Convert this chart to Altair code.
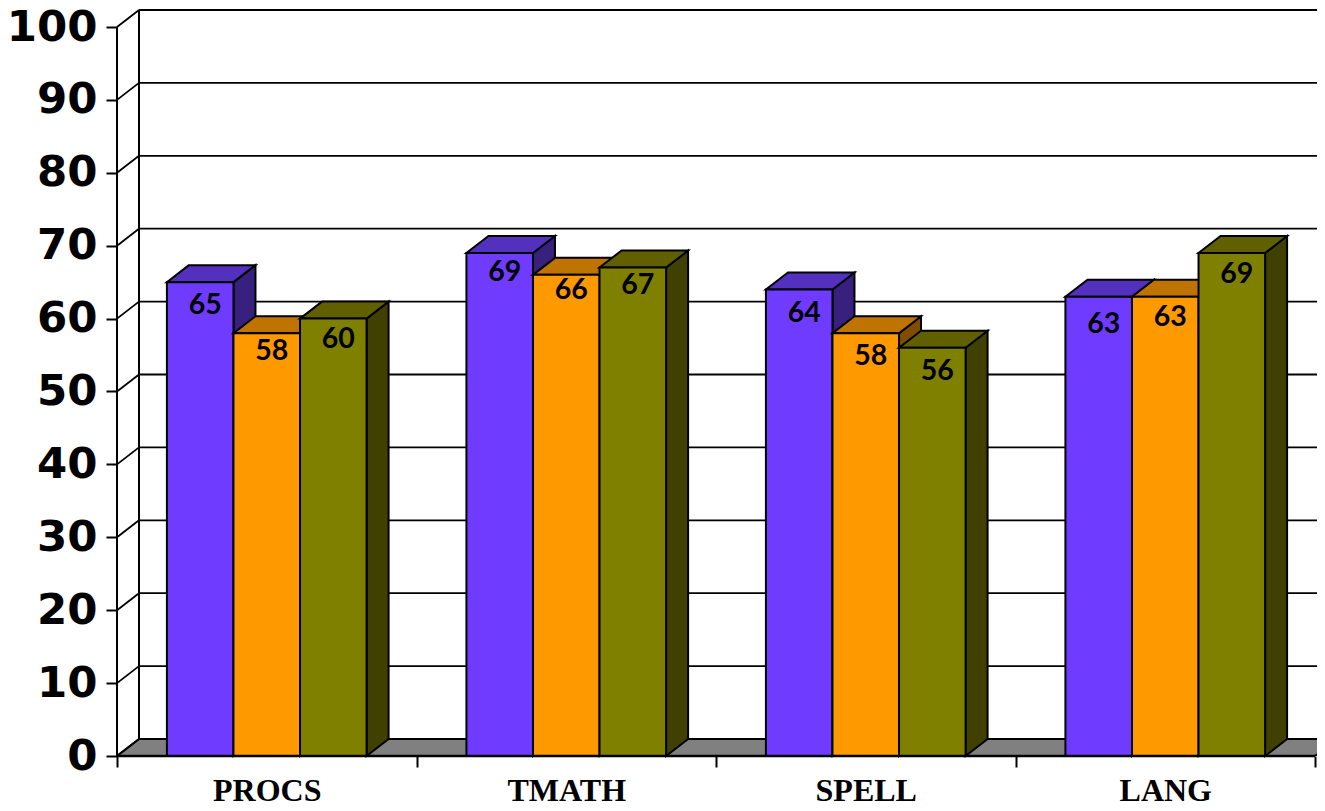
import altair as alt
import pandas as pd

categories = ["PROCS", "TMATH", "SPELL", "LANG"]
purple_values = [65, 69, 64, 63]
orange_values = [58, 66, 58, 63]
olive_values = [60, 67, 56, 69]
y_ticks = [0, 10, 20, 30, 40, 50, 60, 70, 80, 90, 100]

BAR = 1 / 4.5
GAP = 0.75 / 4.5
DX = 22 / 299.5
DY = 17 / 7.29
X_MAX = 1200 / 299.5
Y_MAX = 100 + DY
PX = 7.29

x_scale = alt.Scale(domain=[0, X_MAX], nice=False, zero=False)
y_scale = alt.Scale(domain=[0, Y_MAX], nice=False, zero=False)

x_ticks = [i / 2 for i in range(2 * len(categories) + 1)]
label_expr = "datum.value % 1 == 0 ? '' : " + str(categories) + "[floor(datum.value)]"

y_axis = alt.Axis(
    values=y_ticks, domain=False, grid=False, tickColor="black", tickWidth=2, tickSize=11,
    labelFont="DejaVu Sans", labelFontWeight="bold", labelFontSize=43.5, labelColor="black",
    labelPadding=9, labelOverlap=False, labelBound=False,
)
x_axis = alt.Axis(
    values=x_ticks, domain=False, grid=False, tickColor="black", tickWidth=2, tickSize=11,
    tickOpacity={"condition": {"test": "datum.value % 1 == 0", "value": 1}, "value": 0},
    labelExpr=label_expr,
    labelFont="Liberation Serif", labelFontWeight="bold", labelFontSize=32, labelColor="black",
    labelAngle=0, labelPadding=8, labelOverlap=False, labelBound=False, labelFlush=False,
)


def X(f="x"):
    return alt.X(f, type="quantitative", scale=x_scale, axis=x_axis, title=None)


def Y(f="y"):
    return alt.Y(f, type="quantitative", scale=y_scale, axis=y_axis, title=None)


series = [
    (purple_values, "#6F3CFF", "#5430BF", "#38207F", 0, [23, 19, 24, 27]),
    (orange_values, "#FF9900", "#BF7300", "#804D00", 1, [18, 15, 23, 20]),
    (olive_values, "#808000", "#606000", "#404000", 2, [20, 17, 23, 21]),
]

layers = []

floor = pd.DataFrame({
    "y": [0, DY],
    "x": [0, DX],
    "x2": [len(categories), len(categories) + DX],
})
layers.append(
    alt.Chart(floor).mark_area(orient="horizontal", color="#808080", stroke="black",
                               strokeWidth=2, clip=True)
    .encode(y=Y(), x=X(), x2="x2")
)

grid = pd.DataFrame({"y": [v + DY for v in y_ticks], "x": DX, "x2": X_MAX})
layers.append(
    alt.Chart(grid).mark_rule(color="black", strokeWidth=1.8).encode(y=Y(), x=X(), x2="x2")
)
diag = pd.DataFrame(
    [{"t": v, "x": 0, "y": v} for v in y_ticks] + [{"t": v, "x": DX, "y": v + DY} for v in y_ticks]
)
layers.append(
    alt.Chart(diag).mark_line(color="black", strokeWidth=1.8)
    .encode(x=X(), y=Y(), detail="t:N")
)
walls = pd.DataFrame({"x": [0, DX], "y": [0, DY], "y2": [100, 100 + DY]})
layers.append(
    alt.Chart(walls).mark_rule(color="black", strokeWidth=2)
    .encode(x=X(), y=Y(), y2="y2")
)
base = pd.DataFrame({"y": [0], "x": [0], "x2": [len(categories)]})

text_rows = []
for values, front, top, side, idx, drops in series:
    fr, tp, sd = [], [], []
    for c, v in enumerate(values):
        x0 = c + GAP + idx * BAR
        x1 = x0 + BAR
        fr.append({"x": x0, "x2": x1, "y": 0, "y2": v})
        tp += [
            {"id": c, "y": v, "x": x0, "x2": x1},
            {"id": c, "y": v + DY, "x": x0 + DX, "x2": x1 + DX},
        ]
        sd += [
            {"id": c, "x": x1, "y": v, "y2": 0},
            {"id": c, "x": x1 + DX, "y": v + DY, "y2": DY},
        ]
        text_rows.append({"x": (x0 + x1) / 2, "y": v - drops[c] / PX, "label": str(v)})
    layers.append(
        alt.Chart(pd.DataFrame(sd)).mark_area(color=side, stroke="black", strokeWidth=2)
        .encode(x=X(), y=Y(), y2="y2", detail="id:N")
    )
    layers.append(
        alt.Chart(pd.DataFrame(tp)).mark_area(orient="horizontal", color=top, stroke="black", strokeWidth=2)
        .encode(y=Y(), x=X(), x2="x2", detail="id:N")
    )
    layers.append(
        alt.Chart(pd.DataFrame(fr)).mark_rect(color=front, stroke="black", strokeWidth=2)
        .encode(x=X(), x2="x2", y=Y(), y2="y2")
    )

layers.append(
    alt.Chart(base).mark_rule(color="black", strokeWidth=2.5).encode(y=Y(), x=X(), x2="x2")
)
layers.append(
    alt.Chart(pd.DataFrame(text_rows))
    .mark_text(font="Lato", fontWeight="bold", fontSize=28.5, color="black", dx=5,
               align="center", baseline="middle")
    .encode(x=X(), y=Y(), text="label:N")
)

chart = (
    alt.layer(*layers)
    .properties(
        width=1200, height=746,
        autosize=alt.AutoSizeParams(type="none"),
        padding={"left": 109, "top": 2, "right": 0, "bottom": 47},
    )
    .configure_view(stroke=None)
)

chart.save("out.html", embed_options={"renderer": "svg", "actions": False})
